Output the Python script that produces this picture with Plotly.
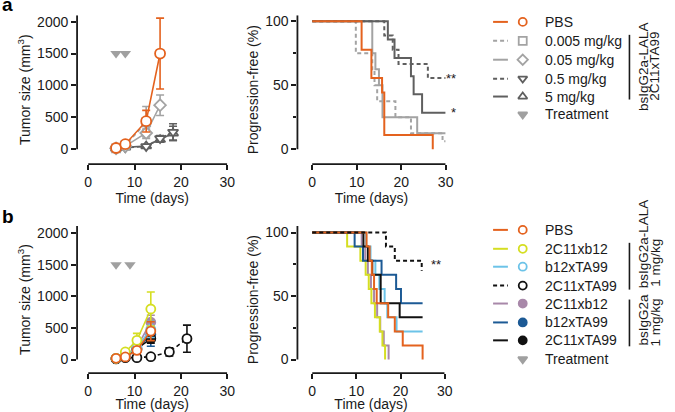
import plotly.graph_objects as go

W, H = 675, 412

# ---------------- data: panel a ----------------
treat_days_a = [6, 8]
treat_days_b = [6, 9]
treat_level = [1500, 1500]

# tumor size (mm3), mean +/- SEM
days_a = [6, 8, 12.5, 15.5]
days_a_long = [6, 8, 12.5, 15.5, 18.3]
pbs_a = [20, 80, 440, 1500]
pbs_a_err = [10, 25, 170, 555]
d0005_a = [15, 60, 420]
d0005_a_err = [8, 20, 250]
d005_a = [15, 50, 255, 690]
d005_a_err = [8, 15, 60, 160]
d05_a = [10, 25, 45, 170, 270]
d05_a_err = [5, 10, 20, 45, 130]
d5_a = [10, 30, 50, 150, 250]
d5_a_err = [5, 10, 20, 40, 110]

# progression-free (%)
km_pbs_a_t = [0, 11.1, 13.3, 15.7, 16.2, 27.1]
km_pbs_a_s = [100, 77.8, 55.6, 44.4, 11.1, 0]
km_d0005_a_t = [0, 9.8, 13.5, 14.0, 14.6, 18.7, 22.2, 29.3, 30]
km_d0005_a_s = [100, 75, 62.5, 50, 37.5, 25, 12.5, 6.25, 6.25]
km_d005_a_t = [0, 13.5, 14.2, 15.0, 15.8, 23.6, 30]
km_d005_a_s = [100, 75, 62.5, 50, 25, 12.5, 12.5]
km_d05_a_t = [0, 16.2, 18.1, 19.4, 26.0, 30]
km_d05_a_s = [100, 88.9, 77.8, 66.7, 55.6, 55.6]
km_d5_a_t = [0, 17.0, 18.5, 22.2, 22.8, 24.7, 30]
km_d5_a_s = [100, 85.7, 71.4, 57.1, 42.9, 28.6, 28.6]

# ---------------- data: panel b ----------------
days_b = [6, 8, 10.5, 13.5]
days_b_long = [6, 8, 10.5, 13.5, 17.5, 21.3]
pbs_b = [20, 41, 146, 450]
pbs_b_err = [8, 15, 45, 150]
xb12_lala_b = [20, 120, 304, 800]
xb12_lala_b_err = [8, 30, 110, 270]
b12ta_lala_b = [20, 60, 190, 480]
b12ta_lala_b_err = [8, 20, 60, 130]
ta99_lala_b = [10, 30, 30, 45, 120, 330]
ta99_lala_b_err = [5, 10, 15, 25, 65, 215]
xb12_b = [20, 60, 200, 590]
xb12_b_err = [8, 20, 60, 110]
b12ta_b = [15, 50, 160, 400]
b12ta_b_err = [8, 15, 50, 190]
ta99_b = [15, 45, 170, 330]
ta99_b_err = [8, 15, 50, 70]

km_pbs_b_t = [0, 12.3, 13.0, 13.5, 14.0, 14.6, 17.2, 18.7, 20.5, 25]
km_pbs_b_s = [100, 88.9, 77.8, 66.7, 55.6, 44.4, 33.3, 22.2, 11.1, 0]
km_xb12_lala_b_t = [0, 7.9, 10.9, 12.1, 12.8, 13.4, 14.2, 15.3, 15.9, 16.5]
km_xb12_lala_b_s = [100, 88.9, 77.8, 66.7, 55.6, 44.4, 33.3, 22.2, 11.1, 0]
km_b12ta_lala_b_t = [0, 12.2, 13.2, 14.3, 15.2, 16.4, 17.0, 19.1, 25]
km_b12ta_lala_b_s = [100, 88.9, 77.8, 66.7, 55.6, 44.4, 33.3, 22.2, 22.2]
km_ta99_lala_b_t = [0, 16.7, 18.7, 24.8]
km_ta99_lala_b_s = [100, 88.9, 77.8, 70]
km_xb12_b_t = [0, 11.2, 12.0, 12.6, 13.3, 14.0, 14.7, 15.4, 16.2, 17.3]
km_xb12_b_s = [100, 88.9, 77.8, 66.7, 55.6, 44.4, 33.3, 22.2, 11.1, 0]
km_b12ta_b_t = [0, 9.6, 11.5, 15.7, 19.0, 20.1, 25]
km_b12ta_b_s = [100, 88.9, 77.8, 66.7, 55.6, 44.4, 44.4]
km_ta99_b_t = [0, 11.6, 12.6, 13.6, 15.5, 19.8, 25]
km_ta99_b_s = [100, 88.9, 77.8, 66.7, 44.4, 33.3, 33.3]

# ---------------- styles ----------------
ORANGE = "#E4621E"
LGRAY = "#A3A3A3"
DGRAY = "#5F5F5F"
YELLOW = "#D5DE22"
LBLUE = "#6CC3E8"
BLACK = "#111111"
PURPLE = "#A888A9"
DBLUE = "#1C5A95"
TGRAY = "#A0A0A0"
TXT = "#1a1a1a"
FONT = "Liberation Sans, Arial, sans-serif"
DASH = "4px,3px"


def fx(px):
    return px / W


def fy(py):
    return 1 - py / H


fig = go.Figure()


def growth(xa, ya, days, vals, err, color, symbol, filled=False, dash="solid", size=9):
    fig.add_trace(go.Scatter(
        x=days, y=vals, xaxis=xa, yaxis=ya, mode="lines+markers",
        line=dict(color=color, width=1.6, dash=dash),
        marker=dict(symbol=symbol, size=size, color=color if filled else "white",
                    line=dict(color=color, width=1.8)),
        error_y=dict(type="data", array=err, color=color, thickness=1.6, width=4),
        cliponaxis=False, showlegend=False, hoverinfo="skip",
    ))


def km(xa, ya, t, s, color, dash="solid"):
    fig.add_trace(go.Scatter(
        x=t, y=s, xaxis=xa, yaxis=ya, mode="lines", line_shape="hv",
        line=dict(color=color, width=2, dash=dash),
        showlegend=False, hoverinfo="skip",
    ))


def treatment(xa, ya, days):
    fig.add_trace(go.Scatter(
        x=days, y=treat_level, xaxis=xa, yaxis=ya, mode="markers",
        marker=dict(symbol="triangle-down", size=10, color=TGRAY),
        cliponaxis=False, showlegend=False, hoverinfo="skip",
    ))


# panel a, tumor growth
treatment("x", "y", treat_days_a)
growth("x", "y", days_a_long, d5_a, d5_a_err, DGRAY, "triangle-up")
growth("x", "y", days_a_long, d05_a, d05_a_err, DGRAY, "triangle-down", dash=DASH)
growth("x", "y", days_a[:3], d0005_a, d0005_a_err, LGRAY, "square", dash=DASH, size=8)
growth("x", "y", days_a, d005_a, d005_a_err, LGRAY, "diamond")
growth("x", "y", days_a, pbs_a, pbs_a_err, ORANGE, "circle", size=10)

# panel a, progression-free
km("x2", "y2", km_d0005_a_t, km_d0005_a_s, LGRAY, DASH)
km("x2", "y2", km_d005_a_t, km_d005_a_s, LGRAY)
km("x2", "y2", km_d05_a_t, km_d05_a_s, DGRAY, DASH)
km("x2", "y2", km_d5_a_t, km_d5_a_s, DGRAY)
km("x2", "y2", km_pbs_a_t, km_pbs_a_s, ORANGE)

# panel b, tumor growth
treatment("x3", "y3", treat_days_b)
growth("x3", "y3", days_b_long, ta99_lala_b, ta99_lala_b_err, BLACK, "circle", dash=DASH)
growth("x3", "y3", days_b, b12ta_b, b12ta_b_err, DBLUE, "circle", filled=True)
growth("x3", "y3", days_b, ta99_b, ta99_b_err, BLACK, "circle", filled=True)
growth("x3", "y3", days_b, xb12_b, xb12_b_err, PURPLE, "circle", filled=True)
growth("x3", "y3", days_b, b12ta_lala_b, b12ta_lala_b_err, LBLUE, "circle")
growth("x3", "y3", days_b, xb12_lala_b, xb12_lala_b_err, YELLOW, "circle")
growth("x3", "y3", days_b, pbs_b, pbs_b_err, ORANGE, "circle")

# panel b, progression-free
km("x4", "y4", km_xb12_b_t, km_xb12_b_s, PURPLE)
km("x4", "y4", km_xb12_lala_b_t, km_xb12_lala_b_s, YELLOW)
km("x4", "y4", km_b12ta_lala_b_t, km_b12ta_lala_b_s, LBLUE)
km("x4", "y4", km_b12ta_b_t, km_b12ta_b_s, DBLUE)
km("x4", "y4", km_ta99_b_t, km_ta99_b_s, BLACK)
km("x4", "y4", km_pbs_b_t, km_pbs_b_s, ORANGE)
km("x4", "y4", km_ta99_lala_b_t, km_ta99_lala_b_s, BLACK, DASH)

# ---------------- legends (drawn on a hidden pixel-space axis) ----------------
legend_a = [
    ("PBS", ORANGE, "solid", "circle", False),
    ("0.005 mg/kg", LGRAY, DASH, "square", False),
    ("0.05 mg/kg", LGRAY, "solid", "diamond", False),
    ("0.5 mg/kg", DGRAY, DASH, "triangle-down", False),
    ("5 mg/kg", DGRAY, "solid", "triangle-up", False),
    ("Treatment", TGRAY, None, "triangle-down", True),
]
rows_a = [20, 39, 58, 77, 95, 113]
legend_b = [
    ("PBS", ORANGE, "solid", "circle", False),
    ("2C11xb12", YELLOW, "solid", "circle", False),
    ("b12xTA99", LBLUE, "solid", "circle", False),
    ("2C11xTA99", BLACK, DASH, "circle", False),
    ("2C11xb12", PURPLE, "solid", "circle", True),
    ("b12xTA99", DBLUE, "solid", "circle", True),
    ("2C11xTA99", BLACK, "solid", "circle", True),
    ("Treatment", TGRAY, None, "triangle-down", True),
]
rows_b = [229, 248, 266, 285, 303, 322, 340, 359]

shapes = []
annotations = []
for items, rows in ((legend_a, rows_a), (legend_b, rows_b)):
    mx, my, msym, mcol, mfill = [], [], [], [], []
    for (label, color, dash, sym, filled), yy in zip(items, rows):
        if dash is not None:
            shapes.append(dict(type="line", xref="x5", yref="y5", x0=499, x1=514, y0=yy, y1=yy,
                               line=dict(color=color, width=2, dash=dash)))
        mx.append(529)
        my.append(yy)
        msym.append(sym)
        mcol.append(color)
        mfill.append(color if filled else "white")
        annotations.append(dict(xref="x5", yref="y5", x=550, y=yy, text=label, showarrow=False,
                                xanchor="left", yanchor="middle",
                                font=dict(size=14, color=TXT, family=FONT)))
    fig.add_trace(go.Scatter(
        x=mx, y=my, xaxis="x5", yaxis="y5", mode="markers",
        marker=dict(symbol=msym, size=8, color=mfill, line=dict(color=mcol, width=1.8)),
        showlegend=False, hoverinfo="skip", cliponaxis=False,
    ))

# brackets with rotated group labels
for y0, y1 in ((33, 98), (242, 289), (299, 346)):
    shapes.append(dict(type="line", xref="x5", yref="y5", x0=637, x1=637, y0=y0, y1=y1,
                       line=dict(color=TXT, width=1.6)))

rot = [
    ("bsIgG2a-LALA", 651, 65, "middle"),
    ("2C11xTA99", 663, 65, "middle"),
    ("bsIgG2a-LALA", 651, 290, "bottom"),
    ("1 mg/kg", 663, 288, "bottom"),
    ("bsIgG2a", 651, 347, "bottom"),
    ("1 mg/kg", 663, 348, "bottom"),
]
for text, xx, yy, ya in rot:
    annotations.append(dict(xref="x5", yref="y5", x=xx, y=yy, text=text, showarrow=False,
                            textangle=-90, xanchor="center", yanchor=ya,
                            font=dict(size=13.5, color=TXT, family=FONT)))

# significance stars
annotations += [
    dict(xref="paper", yref="y2", x=fx(463), y=km_d05_a_s[-1], text="**", showarrow=False,
         font=dict(size=13, color=TXT, family=FONT)),
    dict(xref="paper", yref="y2", x=fx(463), y=km_d5_a_s[-1], text="*", showarrow=False,
         font=dict(size=13, color=TXT, family=FONT)),
    dict(xref="x4", yref="y4", x=28.0, y=75, text="**", showarrow=False,
         font=dict(size=13, color=TXT, family=FONT)),
]

# panel letters
annotations += [
    dict(xref="paper", yref="paper", x=fx(0), y=fy(15), text="<b>a</b>", showarrow=False,
         xanchor="left", yanchor="bottom", font=dict(size=19, color="#000", family=FONT)),
    dict(xref="paper", yref="paper", x=fx(0), y=fy(228), text="<b>b</b>", showarrow=False,
         xanchor="left", yanchor="bottom", font=dict(size=19, color="#000", family=FONT)),
]

# ---------------- axes ----------------
# Prism style: detached axis lines, drawn as shapes from 0 to the end of each range
common = dict(showline=False, ticks="outside", ticklen=5, tickwidth=1.8, tickcolor=TXT,
              tickfont=dict(size=14, color=TXT, family=FONT),
              showgrid=False, zeroline=False, fixedrange=True)
tfont = dict(size=14, color=TXT, family=FONT)


def xax(anchor, x0, x1, xmin):
    return dict(common, anchor=anchor, domain=[fx(x0), fx(x1)], range=[xmin, 30],
                tickvals=[0, 10, 20, 30],
                title=dict(text="Time (days)", standoff=2, font=tfont))


def yax(anchor, ytop, ybot, rng, vals, title, minor=None):
    d = dict(common, anchor=anchor, domain=[fy(ybot), fy(ytop)], range=rng, tickvals=vals,
             title=dict(text=title, standoff=3, font=tfont))
    if minor:
        d["minor"] = dict(tickvals=minor, ticklen=3, tickwidth=1.5, tickcolor=TXT,
                          ticks="outside")
    return d


TUMOR = "Tumor size (mm<sup>3</sup>)"
PFS = "Progression-free (%)"
tumor_ticks = [0, 500, 1000, 1500, 2000]

for xa, ya, ytop in (("x", "y", 2100), ("x2", "y2", 104.7), ("x3", "y3", 2115), ("x4", "y4", 105.2)):
    shapes.append(dict(type="line", xref=xa, yref=ya + " domain", x0=0, x1=30, y0=0, y1=0,
                       line=dict(color=TXT, width=1.8), layer="above"))
    shapes.append(dict(type="line", xref=xa + " domain", yref=ya, x0=0, x1=0, y0=0, y1=ytop,
                       line=dict(color=TXT, width=1.8), layer="above"))

fig.update_layout(
    width=W, height=H, margin=dict(l=0, r=0, t=0, b=0),
    paper_bgcolor="white", plot_bgcolor="rgba(0,0,0,0)",
    font=dict(family=FONT, size=14, color=TXT),
    showlegend=False,
    xaxis=xax("y", 78, 230, -2.41),
    yaxis=yax("x", 13.3, 163, [-234, 2100], tumor_ticks, TUMOR),
    xaxis2=xax("y2", 301, 451, -3.33),
    yaxis2=yax("x2", 13.3, 163, [-11.65, 104.7], [0, 50, 100], PFS, [25, 75]),
    xaxis3=xax("y3", 78, 230, -2.41),
    yaxis3=yax("x3", 225, 373, [-216, 2115], tumor_ticks, TUMOR),
    xaxis4=xax("y4", 301, 450, -3.36),
    yaxis4=yax("x4", 225, 373, [-10.7, 105.2], [0, 50, 100], PFS, [25, 75]),
    xaxis5=dict(domain=[0, 1], range=[0, W], visible=False, anchor="y5", fixedrange=True),
    yaxis5=dict(domain=[0, 1], range=[H, 0], visible=False, anchor="x5", fixedrange=True),
    shapes=shapes,
    annotations=annotations,
)

fig.write_html("out.html", config={"displayModeBar": False},
               post_script="document.body.style.margin='0';")
